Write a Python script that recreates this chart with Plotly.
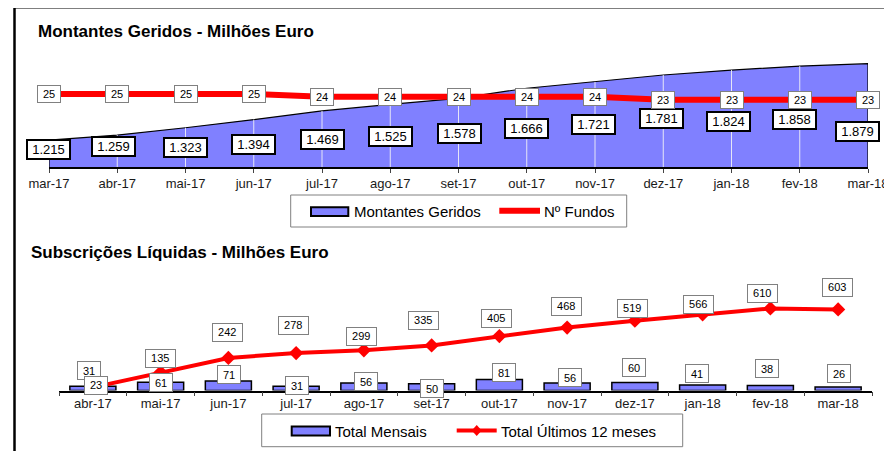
import plotly.graph_objects as go

OFF = 8                      # page body margin compensation
W, H = 892 - OFF, 451 - OFF  # figure size
FONT = "Liberation Sans, Arial, Helvetica, sans-serif"
BLUE = "#8080FF"
RED = "#FF0000"

# ---------------- data ----------------
months_top = ["mar-17", "abr-17", "mai-17", "jun-17", "jul-17", "ago-17", "set-17",
              "out-17", "nov-17", "dez-17", "jan-18", "fev-18", "mar-18"]
montantes = [1215, 1259, 1323, 1394, 1469, 1525, 1578, 1666, 1721, 1781, 1824, 1858, 1879]
n_fundos = [25, 25, 25, 25, 24, 24, 24, 24, 24, 23, 23, 23, 23]

months_bot = ["abr-17", "mai-17", "jun-17", "jul-17", "ago-17", "set-17",
              "out-17", "nov-17", "dez-17", "jan-18", "fev-18", "mar-18"]
total_mensais = [31, 61, 71, 31, 56, 50, 81, 56, 60, 41, 38, 26]
total_12m = [23, 135, 242, 278, 299, 335, 405, 468, 519, 566, 610, 603]

# ---------------- label offsets (pixels, style only) ----------------
top_lbl_dx = [-0.5, -4, 0, 0, 0, 0, 1, 0, -2, -2, -3.5, -5, -10.5]
top_lbl_dy = [-9, -11, -20, -24.5, -28.6, -32, -34.7, -39.8, -43, -44, -51, -53, -68]
bar_lbl_dx = [-3.4, 0.6, 0.4, 0.6, 2.6, 0.4, 5, 2.4, -1.2, -5.6, -3.7, 0.6]
bar_lbl_dy = [15.5, -0.5, 6.8, 1.3, 1.8, -5, 7.4, 5.8, 15.2, 11.2, 17.1, 13.2]
line_lbl_dx = [3.4, 0.1, -0.4, -2.3, -2.6, -8, -3.2, -0.9, -2.1, -4.6, -7.7, -1]
line_lbl_dy = [1.9, 14, 25.2, 27.3, 13.6, 24.6, 17.7, 21.4, 11.9, 10.2, 14.7, 21.9]


def px(x):
    return (x - OFF) / W


def py(y):
    return 1 - (y - OFF) / H


Y1_RANGE = [982, 1998]
Y2_RANGE = [0, 40]
Y3_RANGE = [0, 800]

fig = go.Figure()

# ---- top chart: area (closed polygon down to axis minimum) ----
xi = list(range(len(months_top)))
fig.add_trace(go.Scatter(
    x=[xi[0]] + xi + [xi[-1]],
    y=[Y1_RANGE[0]] + montantes + [Y1_RANGE[0]],
    fill="toself", fillcolor=BLUE, mode="lines",
    line=dict(color="black", width=1.2),
    xaxis="x", yaxis="y", name="Montantes Geridos", showlegend=False, hoverinfo="skip"))

# drop lines
dx_, dy_ = [], []
for i, v in zip(xi[1:-1], montantes[1:-1]):
    dx_ += [i, i, None]
    dy_ += [Y1_RANGE[0], v, None]
fig.add_trace(go.Scatter(x=dx_, y=dy_, mode="lines",
                         line=dict(color="rgba(235,235,245,0.95)", width=1),
                         xaxis="x", yaxis="y", showlegend=False, hoverinfo="skip"))

# Nº Fundos line
fig.add_trace(go.Scatter(x=xi, y=n_fundos, mode="lines",
                         line=dict(color=RED, width=6),
                         xaxis="x", yaxis="y2", name="Nº Fundos", showlegend=False))

# ---- bottom chart ----
fig.add_trace(go.Bar(x=months_bot, y=total_mensais, marker=dict(color=BLUE, line=dict(color="black", width=1.5)),
                     xaxis="x3", yaxis="y3", name="Total Mensais", showlegend=False))
fig.add_trace(go.Scatter(x=months_bot, y=total_12m, mode="lines+markers",
                         line=dict(color=RED, width=4),
                         marker=dict(symbol="diamond", size=11, color=RED),
                         xaxis="x3", yaxis="y3", name="Total Últimos 12 meses", showlegend=False))

annotations = []
# top area labels
for i, v in enumerate(montantes):
    annotations.append(dict(
        x=i, y=v, xref="x", yref="y", xshift=top_lbl_dx[i], yshift=top_lbl_dy[i],
        text=f"{v:,}".replace(",", "."), showarrow=False,
        font=dict(family=FONT, size=13, color="black"),
        bgcolor="white", bordercolor="black", borderwidth=2, borderpad=0,
        width=41, height=16.5, align="center", valign="middle"))
# Nº Fundos labels
for i, v in enumerate(n_fundos):
    annotations.append(dict(
        x=i, y=v, xref="x", yref="y2",
        text=str(v), showarrow=False,
        font=dict(family=FONT, size=11, color="black"),
        bgcolor="white", bordercolor="#808080", borderwidth=1, borderpad=0,
        width=22, height=16, align="center", valign="middle"))
# bottom bar labels
for i, v in enumerate(total_mensais):
    annotations.append(dict(
        x=months_bot[i], y=v, xref="x3", yref="y3", xshift=bar_lbl_dx[i], yshift=bar_lbl_dy[i],
        text=str(v), showarrow=False,
        font=dict(family=FONT, size=11, color="black"),
        bgcolor="white", bordercolor="#808080", borderwidth=1, borderpad=0,
        width=22 if v < 100 else 28.5, height=17, align="center", valign="middle"))
# bottom line labels
for i, v in enumerate(total_12m):
    annotations.append(dict(
        x=months_bot[i], y=v, xref="x3", yref="y3", xshift=line_lbl_dx[i], yshift=line_lbl_dy[i],
        text=str(v), showarrow=False,
        font=dict(family=FONT, size=11, color="black"),
        bgcolor="white", bordercolor="#808080", borderwidth=1, borderpad=0,
        width=22 if v < 100 else 28.5, height=16.5, align="center", valign="middle"))

# titles
annotations.append(dict(x=px(36), y=py(31), xref="paper", yref="paper", xanchor="left", yanchor="middle",
                        text="<b>Montantes Geridos - Milhões Euro</b>", showarrow=False,
                        font=dict(family=FONT, size=17, color="black")))
annotations.append(dict(x=px(29), y=py(252.7), xref="paper", yref="paper", xanchor="left", yanchor="middle",
                        text="<b>Subscrições Líquidas - Milhões Euro</b>", showarrow=False,
                        font=dict(family=FONT, size=17, color="black")))

# legend texts
for (lx, ly, t) in [(352.3, 211.7, "Montantes Geridos"), (542, 211.7, "Nº Fundos"),
                    (333.3, 431, "Total Mensais"), (499.3, 431, "Total Últimos 12 meses")]:
    annotations.append(dict(x=px(lx), y=py(ly), xref="paper", yref="paper", xanchor="left", yanchor="middle",
                            text=t, showarrow=False, font=dict(family=FONT, size=15, color="black")))

shapes = []
# outer frame (top and left edges)
shapes.append(dict(type="line", xref="paper", yref="paper", x0=px(14.5), x1=px(900), y0=py(7.3), y1=py(7.3),
                   line=dict(color="black", width=2.5)))
shapes.append(dict(type="line", xref="paper", yref="paper", x0=px(14.5), x1=px(14.5), y0=py(7.3), y1=py(460),
                   line=dict(color="black", width=2.5)))
# top legend
shapes.append(dict(type="rect", xref="paper", yref="paper", x0=px(290.7), x1=px(626.7), y0=py(195), y1=py(227),
                   line=dict(color="#808080", width=1), fillcolor="white"))
shapes.append(dict(type="rect", xref="paper", yref="paper", x0=px(311), x1=px(348.3), y0=py(207.3), y1=py(216),
                   line=dict(color="black", width=2), fillcolor=BLUE))
shapes.append(dict(type="line", xref="paper", yref="paper", x0=px(499.3), x1=px(540), y0=py(210.7), y1=py(210.7),
                   line=dict(color=RED, width=6)))
# bottom legend
shapes.append(dict(type="rect", xref="paper", yref="paper", x0=px(261.7), x1=px(682.7), y0=py(414), y1=py(446.7),
                   line=dict(color="#808080", width=1), fillcolor="white"))
shapes.append(dict(type="rect", xref="paper", yref="paper", x0=px(291.7), x1=px(330), y0=py(426.5), y1=py(435.5),
                   line=dict(color="black", width=2), fillcolor=BLUE))
shapes.append(dict(type="line", xref="paper", yref="paper", x0=px(456.7), x1=px(496.7), y0=py(430.5), y1=py(430.5),
                   line=dict(color=RED, width=4)))
cx, cy = 476.7, 430.5
shapes.append(dict(type="path", xref="paper", yref="paper",
                   path=f"M {px(cx)},{py(cy-5.5)} L {px(cx+5)},{py(cy)} L {px(cx)},{py(cy+5.5)} L {px(cx-5)},{py(cy)} Z",
                   line=dict(color=RED, width=0), fillcolor=RED))

tickfont = dict(family=FONT, size=13, color="#1a1a1a")

fig.update_layout(
    width=W, height=H, autosize=False, margin=dict(l=0, r=0, t=0, b=0, pad=0, autoexpand=False),
    paper_bgcolor="white", plot_bgcolor="rgba(0,0,0,0)",
    showlegend=False,
    bargap=0.32,
    xaxis=dict(domain=[px(49), px(868)], range=[0, 12], tickmode="array", tickvals=xi, ticktext=months_top,
               ticks="outside", ticklen=4, tickcolor="#444", tickwidth=1, automargin=False,
               ticklabeloverflow="allow",
               showline=True, linecolor="black", linewidth=1.5, showgrid=False, zeroline=False,
               tickfont=tickfont, anchor="y"),
    yaxis=dict(domain=[py(167), py(50)], range=Y1_RANGE, visible=False, anchor="x", automargin=False),
    yaxis2=dict(domain=[py(167), py(50)], range=Y2_RANGE, visible=False, overlaying="y", anchor="x",
                automargin=False),
    xaxis3=dict(domain=[px(59), px(872)], type="category", tickson="boundaries",
                range=[-0.5, len(months_bot) - 0.5], ticklabeloverflow="allow",
                ticks="outside", ticklen=4, tickcolor="#444", tickwidth=1, automargin=False,
                showline=True, linecolor="black", linewidth=1.5, showgrid=False, zeroline=False,
                tickfont=tickfont, anchor="y3"),
    yaxis3=dict(domain=[py(390.5), py(390.5 - 800 * 0.1345)], range=Y3_RANGE, visible=False, anchor="x3",
                automargin=False),
    annotations=annotations,
    shapes=shapes,
)

fig.write_html("out.html")
